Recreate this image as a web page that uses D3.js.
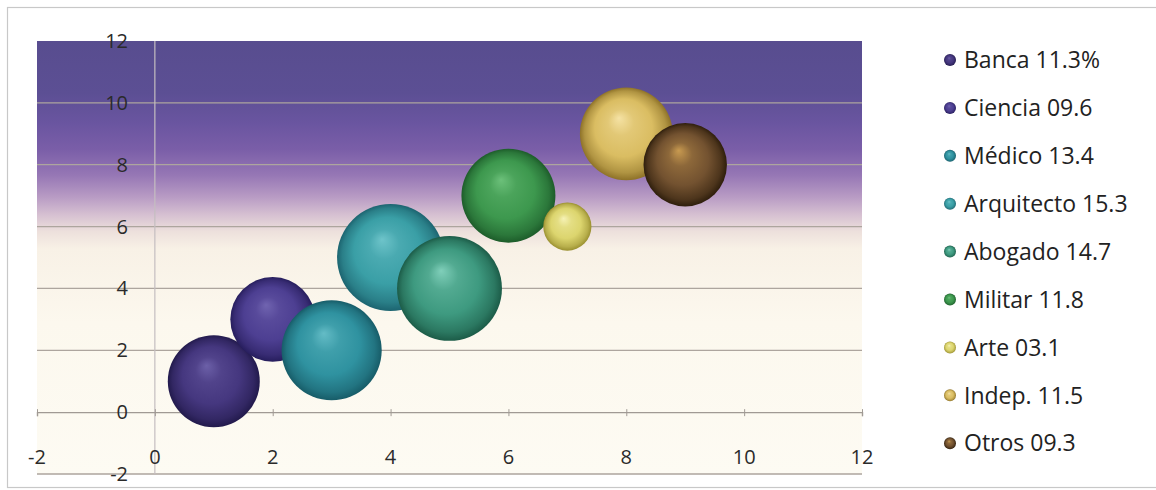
<!DOCTYPE html>
<html>
<head>
<meta charset="utf-8">
<script src="https://cdn.jsdelivr.net/npm/d3@7"></script>
<style>
  html, body { margin: 0; padding: 0; background: #ffffff; }
  svg { display: block; }
</style>
</head>
<body>
<svg id="chart" width="1156" height="490"></svg>
<script>
// Career bubble chart: position by (x, y), bubble area by share
const categories = ["Banca", "Ciencia", "Médico", "Arquitecto", "Abogado", "Militar", "Arte", "Indep.", "Otros"];
const xValues = [1, 2, 3, 4, 5, 6, 7, 8, 9];
const yValues = [1, 3, 2, 5, 4, 7, 6, 9, 8];
const sizes = [11.3, 9.6, 13.4, 15.3, 14.7, 11.8, 3.1, 11.5, 9.3];
const sizeLabels = ["11.3%", "09.6", "13.4", "15.3", "14.7", "11.8", "03.1", "11.5", "09.3"];
const xTicks = [-2, 0, 2, 4, 6, 8, 10, 12];
const yTicks = [-2, 0, 2, 4, 6, 8, 10, 12];

// base, highlight, rim colours per category
const baseColors = ["#45377f", "#4d3f92", "#2f92a0", "#3a9fa6", "#3e9a80", "#3d984e", "#dcd56e", "#dabd62", "#735230"];
const lightColors = ["#6c60a8", "#7064b0", "#64bcc6", "#6ec4ca", "#80cfba", "#6cc07a", "#f6f2b6", "#f5e2a4", "#c89a50"];
const darkColors = ["#221a4c", "#261d5c", "#175c68", "#1c6470", "#1c5c48", "#1d5c2a", "#9a9030", "#8e7228", "#2e1e0c"];

const W = 1156, H = 490;
const plot = { left: 37, right: 862, top: 41, bottom: 474 };

const svg = d3.select("#chart");
const defs = svg.append("defs");

// outer frame
svg.append("rect")
  .attr("x", 7.5).attr("y", 7.5)
  .attr("width", W + 10).attr("height", 480)
  .attr("fill", "#ffffff")
  .attr("stroke", "#c8c8c8").attr("stroke-width", 1.2);

const x = d3.scaleLinear().domain([-2, 12]).range([plot.left, plot.right]);
const y = d3.scaleLinear().domain([-2, 12]).range([plot.bottom, plot.top]);
const r = d3.scaleSqrt().domain([0, d3.max(sizes)]).range([0, 53.5]);

// twilight background of the plot area
const bg = defs.append("linearGradient")
  .attr("id", "plotBg")
  .attr("x1", 0).attr("y1", 0).attr("x2", 0).attr("y2", 1);
[
  [0.00, "#584d8f"],
  [0.12, "#5c4f94"],
  [0.19, "#6a55a0"],
  [0.25, "#7a5ea8"],
  [0.31, "#9677b5"],
  [0.36, "#b89bc4"],
  [0.40, "#d5bfd1"],
  [0.44, "#ede0dc"],
  [0.48, "#f8f1e6"],
  [0.65, "#fcf8ee"],
  [1.00, "#fdfbf3"]
].forEach(([o, c]) => bg.append("stop").attr("offset", o).attr("stop-color", c));

svg.append("rect")
  .attr("x", plot.left).attr("y", plot.top)
  .attr("width", plot.right - plot.left)
  .attr("height", plot.bottom - plot.top)
  .attr("fill", "url(#plotBg)");

// horizontal gridlines
svg.append("g")
  .selectAll("line")
  .data(yTicks.filter(v => v !== 0 && v !== 12))
  .join("line")
  .attr("x1", plot.left).attr("x2", plot.right)
  .attr("y1", d => y(d)).attr("y2", d => y(d))
  .attr("stroke", "#ada59e").attr("stroke-width", 1.3);

// vertical axis line at x = 0
svg.append("line")
  .attr("x1", x(0)).attr("x2", x(0))
  .attr("y1", plot.top).attr("y2", plot.bottom)
  .attr("stroke", "#c4bec0").attr("stroke-width", 1.2);

// horizontal axis at y = 0 with tick marks
const xAxis = d3.axisBottom(x).tickValues(xTicks).tickSize(4).tickFormat("");
const xAxisG = svg.append("g")
  .attr("transform", `translate(0,${y(0)})`)
  .call(xAxis);
xAxisG.select(".domain").attr("stroke", "#a09a94").attr("stroke-width", 1.4);
xAxisG.selectAll(".tick line").attr("stroke", "#a09a94").attr("y1", -3);

// tick labels
const labelFont = "'Open Sans', 'DejaVu Sans', sans-serif";
svg.append("g")
  .selectAll("text")
  .data(xTicks)
  .join("text")
  .attr("x", d => x(d))
  .attr("y", 457)
  .attr("dy", "0.35em")
  .attr("text-anchor", "middle")
  .attr("font-family", labelFont)
  .attr("font-size", 20)
  .attr("fill", "#2a2a2a")
  .text(d => d);

svg.append("g")
  .selectAll("text")
  .data(yTicks)
  .join("text")
  .attr("x", 128)
  .attr("y", d => y(d))
  .attr("dy", "0.35em")
  .attr("text-anchor", "end")
  .attr("font-family", labelFont)
  .attr("font-size", 20)
  .attr("fill", "#2a2a2a")
  .text(d => d);

// shaded sphere gradients
categories.forEach((c, i) => {
  const g = defs.append("radialGradient")
    .attr("id", "ball" + i)
    .attr("cx", 0.5).attr("cy", 0.5).attr("r", 0.5)
    .attr("fx", 0.42).attr("fy", 0.33);
  g.append("stop").attr("offset", 0).attr("stop-color", lightColors[i]);
  g.append("stop").attr("offset", 0.28).attr("stop-color", d3.interpolateRgb(lightColors[i], baseColors[i])(0.7));
  g.append("stop").attr("offset", 0.62).attr("stop-color", baseColors[i]);
  g.append("stop").attr("offset", 0.88).attr("stop-color", d3.interpolateRgb(baseColors[i], darkColors[i])(0.55));
  g.append("stop").attr("offset", 1).attr("stop-color", darkColors[i]);
});

const data = categories.map((c, i) => ({ c, i, x: xValues[i], y: yValues[i], s: sizes[i] }));

svg.append("g")
  .selectAll("circle")
  .data(data)
  .join("circle")
  .attr("cx", d => x(d.x))
  .attr("cy", d => y(d.y))
  .attr("r", d => r(d.s))
  .attr("fill", d => `url(#ball${d.i})`);

// legend
const legend = svg.append("g").attr("transform", "translate(950,60)");
const step = 47.9;
const items = legend.selectAll("g")
  .data(data)
  .join("g")
  .attr("transform", (d, i) => `translate(0,${i * step})`);
items.append("circle")
  .attr("r", 6)
  .attr("fill", d => `url(#ball${d.i})`);
items.append("text")
  .attr("x", 14)
  .attr("dy", "0.36em")
  .attr("font-family", labelFont)
  .attr("font-size", 23)
  .attr("fill", "#222222")
  .text(d => `${d.c} ${sizeLabels[d.i]}`);
</script>
</body>
</html>
